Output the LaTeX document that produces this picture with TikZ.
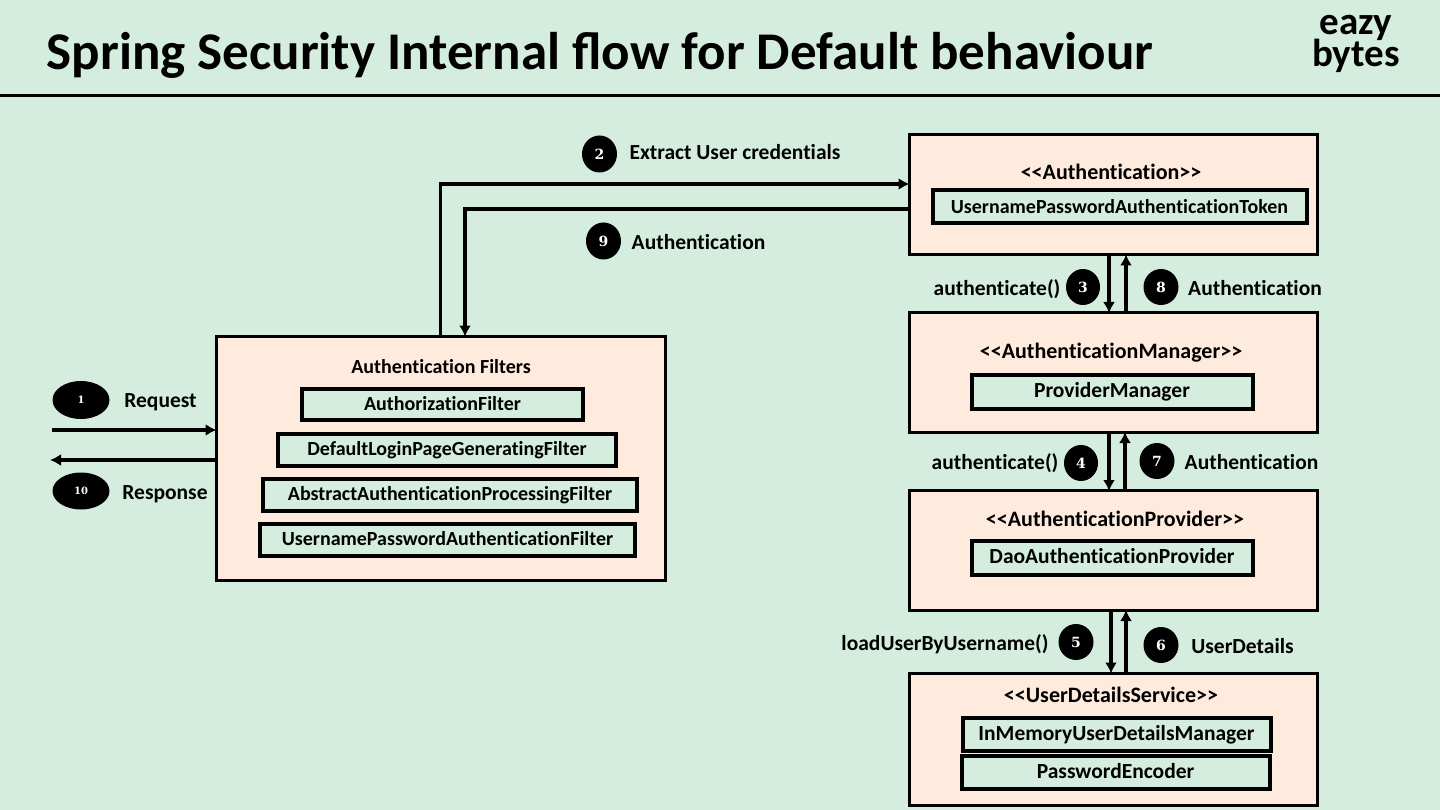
\documentclass[tikz,border=0pt]{standalone}
\usepackage{fontspec}
\setmainfont{Carlito}[Ligatures=NoCommon]
\newfontfamily\titlefont{Carlito}
\newfontfamily\badgefont{DejaVu Serif}
\usepackage{xcolor}
\usetikzlibrary{shapes.geometric,arrows.meta}
\definecolor{pagegreen}{HTML}{D5EDDF}
\definecolor{boxpeach}{HTML}{FEEBDD}
\tikzstyle{line} = [draw, line width=3.5pt, shorten >=-2pt, -{Latex[length=11pt,width=12pt]}]
\tikzstyle{outerbox} = [draw, line width=3pt, fill=boxpeach, inner sep=0pt]
\tikzstyle{innerbox} = [draw, line width=4pt, fill=pagegreen, inner sep=0pt, text height=17pt, text depth=4.4pt, font=\bfseries\fontsize{20}{22}\selectfont]
\tikzstyle{bigbox} = [innerbox, font=\bfseries\fontsize{21.5}{22}\selectfont]
\tikzstyle{badge} = [ellipse, fill=black, text=white, inner sep=0pt, font=\badgefont\bfseries\fontsize{14}{14}\selectfont]
\tikzstyle{smallbadge} = [badge, font=\badgefont\bfseries\fontsize{10}{10}\selectfont]
\tikzstyle{label} = [inner sep=0pt, text height=15pt, text depth=5pt, font=\bfseries\fontsize{21.5}{24}\selectfont]
\tikzstyle{boxtitle} = [label, font=\bfseries\fontsize{22}{24}\selectfont]
\begin{document}
\begin{tikzpicture}[x=1pt, y=-1pt]
    \useasboundingbox [fill=pagegreen] (0,0) rectangle (1440,810);
    % header
    \node (title) [inner sep=0pt, font=\titlefont\bfseries\fontsize{53}{56}\selectfont] at (600,55) {Spring Security Internal flow for Default behaviour};
    \node (eazy) [inner sep=0pt, font=\bfseries\fontsize{39}{39}\selectfont] at (1356,28) {eazy};
    \node (bytes) [inner sep=0pt, font=\bfseries\fontsize{39}{39}\selectfont] at (1356,56) {bytes};
    \coordinate (ruleleft) at (0,95.5);
    \coordinate (ruleright) at (1440,95.5);
    \draw [line width=3.5pt] (ruleleft) -- (ruleright);
    % outer boxes
    \node (filters) [outerbox, minimum width=449pt, minimum height=244pt] at (440.5,458) {};
    \node (auth) [outerbox, minimum width=408pt, minimum height=120pt] at (1113,195) {};
    \node (manager) [outerbox, minimum width=408pt, minimum height=120pt] at (1113,372.5) {};
    \node (provider) [outerbox, minimum width=408pt, minimum height=120pt] at (1113,550.5) {};
    \node (service) [outerbox, minimum width=408pt, minimum height=132pt] at (1113,739) {};
    % box titles
    \node (filterstitle) [boxtitle, font=\bfseries\fontsize{20}{24}\selectfont] at (441,368) {Authentication Filters};
    \node (authtitle) [boxtitle] at (1111,175) {<{}<Authentication>{}>};
    \node (managertitle) [boxtitle] at (1111,353) {<{}<AuthenticationManager>{}>};
    \node (providertitle) [boxtitle] at (1115,521) {<{}<AuthenticationProvider>{}>};
    \node (servicetitle) [boxtitle] at (1111,697) {<{}<UserDetailsService>{}>};
    % inner boxes
    \node (authzfilter) [innerbox, minimum width=281pt, minimum height=31pt] at (442.5,404) {AuthorizationFilter};
    \node (loginfilter) [innerbox, minimum width=338pt, minimum height=32pt] at (447,449.5) {DefaultLoginPageGeneratingFilter};
    \node (abstractfilter) [innerbox, minimum width=374pt, minimum height=32pt] at (450,494.5) {AbstractAuthenticationProcessingFilter};
    \node (userpassfilter) [innerbox, minimum width=375pt, minimum height=32pt] at (447.5,539.5) {UsernamePasswordAuthenticationFilter};
    \node (token) [innerbox, minimum width=374pt, minimum height=33pt] at (1119.5,207) {UsernamePasswordAuthenticationToken};
    \node (providermgr) [bigbox, minimum width=281pt, minimum height=34pt] at (1112,391.5) {ProviderManager};
    \node (daoprovider) [bigbox, minimum width=281pt, minimum height=34pt] at (1112,557.5) {DaoAuthenticationProvider};
    \node (inmemory) [bigbox, minimum width=308pt, minimum height=33pt] at (1116.5,734) {InMemoryUserDetailsManager};
    \node (encoder) [bigbox, minimum width=308pt, minimum height=33pt] at (1115.5,772) {PasswordEncoder};
    % badges
    \node (one) [smallbadge, minimum width=57pt, minimum height=38pt] at (81,400) {1};
    \node (ten) [smallbadge, minimum width=57pt, minimum height=37pt] at (81,491) {10};
    \node (two) [badge, minimum width=35pt, minimum height=37pt] at (599.5,154) {2};
    \node (nine) [badge, minimum width=35pt, minimum height=37pt] at (603.5,241) {9};
    \node (three) [badge, minimum width=34pt, minimum height=36pt] at (1083,287) {3};
    \node (eight) [badge, minimum width=35pt, minimum height=36pt] at (1161,287) {8};
    \node (four) [badge, minimum width=34pt, minimum height=36pt] at (1081,463) {4};
    \node (seven) [badge, minimum width=35pt, minimum height=36pt] at (1157,461) {7};
    \node (five) [badge, minimum width=35pt, minimum height=36pt] at (1076,642) {5};
    \node (six) [badge, minimum width=35pt, minimum height=36pt] at (1161,645) {6};
    % labels
    \node (request) [label] at (160.5,402) {Request};
    \node (response) [label] at (165,494) {Response};
    \node (extract) [label] at (735,155) {Extract User credentials};
    \node (authback) [label] at (698.5,245) {Authentication};
    \node (callthree) [label] at (997,290) {authenticate()};
    \node (backeight) [label] at (1255,290) {Authentication};
    \node (callfour) [label] at (995,464) {authenticate()};
    \node (backseven) [label] at (1251.5,464) {Authentication};
    \node (callfive) [label] at (945,645) {loadUserByUsername()};
    \node (backsix) [label] at (1242.5,648) {UserDetails};
    % connectors
    \coordinate (reqstart) at (52,430);
    \coordinate (resend) at (52,460);
    \path [line] (reqstart) -- (reqstart -| filters.west);
    \path [line] (resend -| filters.west) -- (resend);
    \path [line] (filters.north) |- ([yshift=11pt]auth.west);
    \path [line] ([yshift=-14pt]auth.west) -| ([xshift=24.5pt]filters.north);
    \path [line] ([xshift=-4pt]auth.south) -- ([xshift=-4pt]manager.north);
    \path [line] ([xshift=13pt]manager.north) -- ([xshift=13pt]auth.south);
    \path [line] ([xshift=-4pt]manager.south) -- ([xshift=-4pt]provider.north);
    \path [line] ([xshift=12pt]provider.north) -- ([xshift=12pt]manager.south);
    \path [line] ([xshift=-2pt]provider.south) -- ([xshift=-2pt]service.north);
    \path [line] ([xshift=13pt]service.north) -- ([xshift=13pt]provider.south);
\end{tikzpicture}
\end{document}
